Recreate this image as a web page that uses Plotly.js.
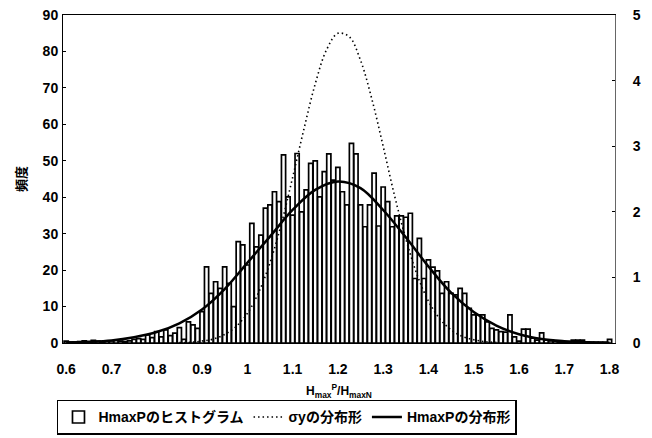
<!DOCTYPE html>
<html>
<head>
<meta charset="utf-8">
<script src="https://cdn.plot.ly/plotly-3.0.1.min.js"></script>
<style>html,body{margin:0;padding:0;background:#fff;}#chart{width:652px;height:438px;}</style>
</head>
<body>
<div id="chart"></div>
<script>
// Histogram bins (HmaxP/HmaxN), step 0.01 from 0.60 to 1.80
const binCenters = [
 0.60,0.61,0.62,0.63,0.64,0.65,0.66,0.67,0.68,0.69,
 0.70,0.71,0.72,0.73,0.74,0.75,0.76,0.77,0.78,0.79,
 0.80,0.81,0.82,0.83,0.84,0.85,0.86,0.87,0.88,0.89,
 0.90,0.91,0.92,0.93,0.94,0.95,0.96,0.97,0.98,0.99,
 1.00,1.01,1.02,1.03,1.04,1.05,1.06,1.07,1.08,1.09,
 1.10,1.11,1.12,1.13,1.14,1.15,1.16,1.17,1.18,1.19,
 1.20,1.21,1.22,1.23,1.24,1.25,1.26,1.27,1.28,1.29,
 1.30,1.31,1.32,1.33,1.34,1.35,1.36,1.37,1.38,1.39,
 1.40,1.41,1.42,1.43,1.44,1.45,1.46,1.47,1.48,1.49,
 1.50,1.51,1.52,1.53,1.54,1.55,1.56,1.57,1.58,1.59,
 1.60,1.61,1.62,1.63,1.64,1.65,1.66,1.67,1.68,1.69,
 1.70,1.71,1.72,1.73,1.74,1.75,1.76,1.77,1.78,1.79,
 1.80];
const histCounts = [
 0.5,0.3,0.3,0.4,0.6,0.4,0.7,0.5,0.3,0.6,
 0.6,0.7,0.5,0.4,0.6,1.0,1.2,1.0,2.2,1.5,
 3.1,1.7,3.6,2.0,2.7,4.2,1.0,5.8,5.0,4.0,
 8.6,20.9,13.6,16.8,15.0,20.9,16.4,10.0,27.8,26.9,
 21.4,32.8,26.4,29.6,37.0,37.9,41.5,38.8,51.6,40.1,
 35.1,52.0,36.0,42.0,49.3,50.0,40.1,47.0,51.9,44.7,
 48.2,41.5,37.9,54.8,51.9,37.9,31.9,37.9,46.6,32.1,
 42.8,38.8,31.9,34.9,34.9,34.5,35.6,17.7,28.7,17.7,
 22.8,20.8,19.8,13.6,16.8,13.6,13.2,15.0,13.6,9.5,
 7.7,7.7,7.7,5.8,4.0,3.6,3.1,3.0,7.7,1.7,
 0.5,3.8,3.8,1.3,0.8,2.8,0.8,0.6,0.5,0.4,
 0.3,0.3,0.8,0.8,0.8,0.3,0.2,0.2,0.2,0.2,
 1.0];

// Fitted distribution of HmaxP (left axis)
const fitX = [0.60,0.65,0.70,0.75,0.80,0.85,0.90,0.95,1.00,1.05,1.10,1.15,1.20,1.25,1.30,1.35,1.40,1.45,1.50,1.55,1.60,1.65,1.70,1.75,1.80];
const fitY = [0.1,0.3,0.7,1.6,3.0,5.4,9.2,14.8,22.0,29.2,36.5,42.0,44.3,42.5,36.5,29.0,21.0,13.8,8.5,4.8,2.4,1.1,0.5,0.2,0.1];

// Distribution of sigma_y (right axis)
const sigX = [0.85,0.875,0.90,0.925,0.95,0.975,1.00,1.025,1.05,1.075,1.10,1.125,1.15,1.175,1.20,1.225,1.25,1.275,1.30,1.325,1.35,1.375,1.40,1.425,1.45,1.475,1.50,1.525,1.55];
const sigY = [0.005,0.01,0.03,0.06,0.13,0.25,0.45,0.77,1.22,1.81,2.52,3.26,3.95,4.47,4.72,4.67,4.31,3.72,3.00,2.25,1.59,1.04,0.64,0.37,0.20,0.10,0.05,0.02,0.01];

const xTicks = [0.6,0.7,0.8,0.9,1.0,1.1,1.2,1.3,1.4,1.5,1.6,1.7,1.8];
const xTickText = ['0.6','0.7','0.8','0.9','1','1.1','1.2','1.3','1.4','1.5','1.6','1.7','1.8'];
const yTicks = [0,10,20,30,40,50,60,70,80,90];
const y2Ticks = [0,1,2,3,4,5];

const names = ['HmaxPのヒストグラム','σyの分布形','HmaxPの分布形'];

const FONT = 'Liberation Sans, Arial, Noto Sans CJK JP, sans-serif';

const traces = [
  {
    type: 'bar', x: binCenters, y: histCounts, name: names[0],
    width: 0.0092,
    marker: {color: '#ffffff', line: {color: '#000000', width: 1.7}},
    yaxis: 'y'
  },
  {
    type: 'scatter', mode: 'lines', x: sigX, y: sigY, name: names[1],
    line: {color: '#000000', width: 1.6, dash: '1.5px,3px', shape: 'spline'},
    yaxis: 'y2'
  },
  {
    type: 'scatter', mode: 'lines', x: fitX, y: fitY, name: names[2],
    line: {color: '#000000', width: 2.5, shape: 'spline'},
    yaxis: 'y'
  }
];

const layout = {
  width: 652, height: 438,
  margin: {l: 63, r: 37, t: 15, b: 95, autoexpand: false},
  paper_bgcolor: '#ffffff', plot_bgcolor: '#ffffff',
  font: {family: FONT, size: 13, color: '#000000', weight: 'bold'},
  showlegend: true,
  bargap: 0,
  xaxis: {
    range: [0.593, 1.812],
    automargin: false,
    tickvals: xTicks, ticktext: xTickText,
    showgrid: false, zeroline: false,
    showline: true, linecolor: '#000', linewidth: 1, mirror: true,
    ticks: '', ticklen: 0,
    ticklabelstandoff: 13,
    tickfont: {family: FONT, size: 14, weight: 'bold'},
    title: {text: 'H<sub>max</sub><sup>P</sup>/H<sub>maxN</sub>', font: {family: FONT, size: 12, weight: 'bold'}, standoff: 12}
  },
  yaxis: {
    range: [0, 90], tickvals: yTicks,
    automargin: false,
    showgrid: false, zeroline: false,
    showline: true, linecolor: '#000', linewidth: 1,
    ticks: 'inside', ticklen: 3, tickcolor: '#000',
    ticklabelstandoff: 1,
    tickfont: {family: FONT, size: 14, weight: 'bold'},
    title: {text: '頻度', font: {family: 'Noto Sans CJK JP, sans-serif', size: 13, weight: 'bold'}, standoff: 13}
  },
  yaxis2: {
    range: [0, 5], tickvals: y2Ticks,
    automargin: false,
    overlaying: 'y', side: 'right',
    showgrid: false, zeroline: false,
    showline: true, linecolor: '#666', linewidth: 1,
    ticks: 'inside', ticklen: 3, tickcolor: '#000',
    ticklabelstandoff: 14,
    tickfont: {family: FONT, size: 14, weight: 'bold'}
  },
  legend: {
    orientation: 'h',
    xref: 'container', yref: 'container',
    x: 0.0874, xanchor: 'left', y: 0.087, yanchor: 'top',
    bordercolor: '#000', borderwidth: 1.5, bgcolor: '#fff',
    font: {family: 'Liberation Sans, Noto Sans CJK JP, sans-serif', size: 14, weight: 'bold'},
    itemwidth: 30, tracegroupgap: 0
  }
};

Plotly.newPlot('chart', traces, layout, {displayModeBar: false, staticPlot: true});
</script>
</body>
</html>
